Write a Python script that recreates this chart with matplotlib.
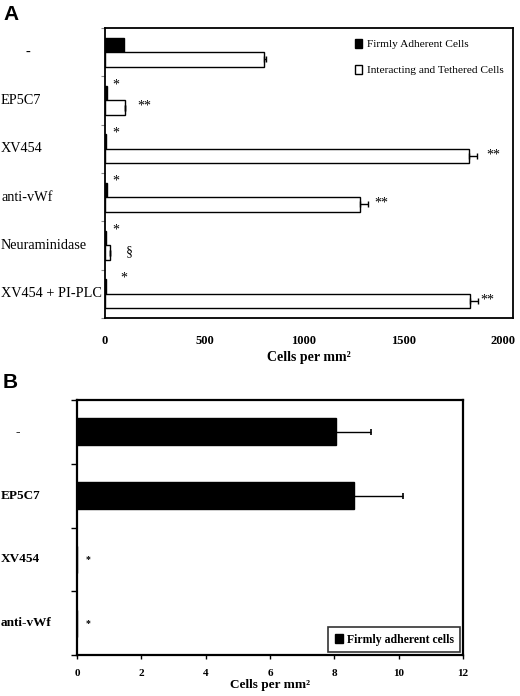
import matplotlib
matplotlib.use("Agg")
import matplotlib.pyplot as plt
import matplotlib.transforms as mtransforms
from matplotlib.patches import Patch
import numpy as np

# ---------------- data ----------------
cats_a = ["-", "EP5C7", "XV454", "anti-vWf", "Neuraminidase", "XV454 + PI-PLC"]
firm_a = [95, 10, 5, 8, 5, 4]
inter_a = [800, 100, 1830, 1280, 25, 1833]
inter_err_a = [10, 0, 40, 40, 0, 40]
star_firm_a = ["", "*", "*", "*", "*", "*"]
star_firm_x = [0, 55, 55, 55, 55, 95]
mark_inter_a = ["", "**", "**", "**", "\u00a7", "**"]
mark_inter_x = [0, 200, 1950, 1390, 120, 1920]
xticks_a = [0, 500, 1000, 1500, 2000]

cats_b = ["-", "EP5C7", "XV454", "anti-vWf"]
firm_b = [8.05, 8.62, 0.0, 0.0]
firm_err_b = [1.1, 1.53, 0.0, 0.0]
star_b = ["", "", "*", "*"]
star_b_x = [0, 0, 0.35, 0.35]
xticks_b = [0, 2, 4, 6, 8, 10, 12]

serif = ["Liberation Serif", "DejaVu Serif"]
sans = ["Liberation Sans", "DejaVu Sans"]

W, H = 520, 696
fig = plt.figure(figsize=(W / 100, H / 100), dpi=100)

# ---------------- Panel A ----------------
axA = fig.add_axes([105 / W, 1 - 318 / H, 408 / W, 290 / H])
n = len(cats_a)
ypos = np.arange(n)
bh = 0.3
axA.barh(ypos - bh / 2, firm_a, height=bh, color="black", edgecolor="black", linewidth=1)
axA.barh(ypos + bh / 2, inter_a, height=bh, color="white", edgecolor="black", linewidth=1,
         xerr=[np.zeros(n), inter_err_a], error_kw=dict(ecolor="black", elinewidth=1, capsize=2, capthick=1))
axA.set_xlim(0, 2050)
axA.set_ylim(n - 0.5, -0.5)
axA.set_xticks(xticks_a)
axA.set_xticklabels([str(v) for v in xticks_a], fontfamily=serif, fontweight="bold", fontsize=9)
axA.tick_params(axis="x", length=0, pad=12)
axA.set_yticks(np.arange(n + 1) - 0.5)
axA.set_yticklabels([])
axA.tick_params(axis="y", length=3, width=0.8, color="#888888", direction="out")
for s in axA.spines.values():
    s.set_linewidth(1.3)
axA.set_xlabel("Cells per mm\u00b2", fontfamily=serif, fontweight="bold", fontsize=10, labelpad=3)

transA = mtransforms.blended_transform_factory(fig.transFigure, axA.transData)
for i, c in enumerate(cats_a):
    xx = 25 / W if c == "-" else 1 / W
    axA.text(xx, i, c, transform=transA, ha="left", va="center", fontfamily=serif, fontsize=10.3)

for i in range(n):
    if star_firm_a[i]:
        axA.text(star_firm_x[i], i - 0.33, star_firm_a[i], ha="center", va="center",
                 fontfamily=serif, fontsize=10)
    if mark_inter_a[i]:
        axA.text(mark_inter_x[i], i + 0.12, mark_inter_a[i], ha="center", va="center",
                 fontfamily=serif, fontsize=10)

handlesA = [Patch(facecolor="black", edgecolor="black"),
            Patch(facecolor="white", edgecolor="black")]
fig.legend(handlesA, ["Firmly Adherent Cells", "Interacting and Tethered Cells"],
           loc="upper left", bbox_to_anchor=(349 / W, 1 - 33 / H), frameon=False,
           prop=dict(family=serif, size=8.2), handlelength=0.6, handleheight=0.9,
           handletextpad=0.5, labelspacing=1.35, borderpad=0)

fig.text(3 / W, 1 - 14 / H, "A", fontfamily=sans, fontweight="bold", fontsize=15, va="center", ha="left")

# ---------------- Panel B ----------------
axB = fig.add_axes([77 / W, 1 - 655 / H, 386 / W, 255 / H])
m = len(cats_b)
yb = np.arange(m)
axB.barh(yb, firm_b, height=0.42, color="black", edgecolor="black",
         xerr=[np.zeros(m), firm_err_b], error_kw=dict(ecolor="black", elinewidth=1, capsize=2, capthick=1.2))
axB.set_xlim(0, 12)
axB.set_ylim(m - 0.5, -0.5)
axB.set_xticks(xticks_b)
axB.set_xticklabels([str(v) for v in xticks_b], fontfamily=serif, fontweight="bold", fontsize=8)
axB.tick_params(axis="x", length=3, width=1, direction="out", pad=7)
axB.set_yticks(np.arange(m + 1) - 0.5)
axB.set_yticklabels([])
axB.tick_params(axis="y", length=4, width=1, direction="out")
for s in axB.spines.values():
    s.set_linewidth(1.6)
axB.set_xlabel("Cells per mm\u00b2", fontfamily=serif, fontweight="bold", fontsize=9.5, labelpad=1)

transB = mtransforms.blended_transform_factory(fig.transFigure, axB.transData)
for i, c in enumerate(cats_b):
    xx = 15 / W if c == "-" else 1 / W
    axB.text(xx, i, c, transform=transB, ha="left", va="center", fontfamily=serif,
             fontweight="bold", fontsize=9.5)
for i in range(m):
    if star_b[i]:
        axB.text(star_b_x[i], i, star_b[i], ha="center", va="center", fontfamily=serif,
                 fontweight="bold", fontsize=7)

legB = axB.legend([Patch(facecolor="black", edgecolor="black")], ["Firmly adherent cells"],
                  loc="lower right", bbox_to_anchor=(1 - 3 / 386, 3 / 255), frameon=True, fancybox=False,
                  prop=dict(family=serif, size=8.5, weight="bold"), handlelength=0.7, handleheight=0.9,
                  handletextpad=0.3, borderpad=0.55, borderaxespad=0)
legB.get_frame().set_edgecolor("black")
legB.get_frame().set_linewidth(1.2)

fig.text(3 / W, 1 - 382 / H, "B", fontfamily=sans, fontweight="bold", fontsize=15, va="center", ha="left")

fig.savefig("out.png", dpi=100)
